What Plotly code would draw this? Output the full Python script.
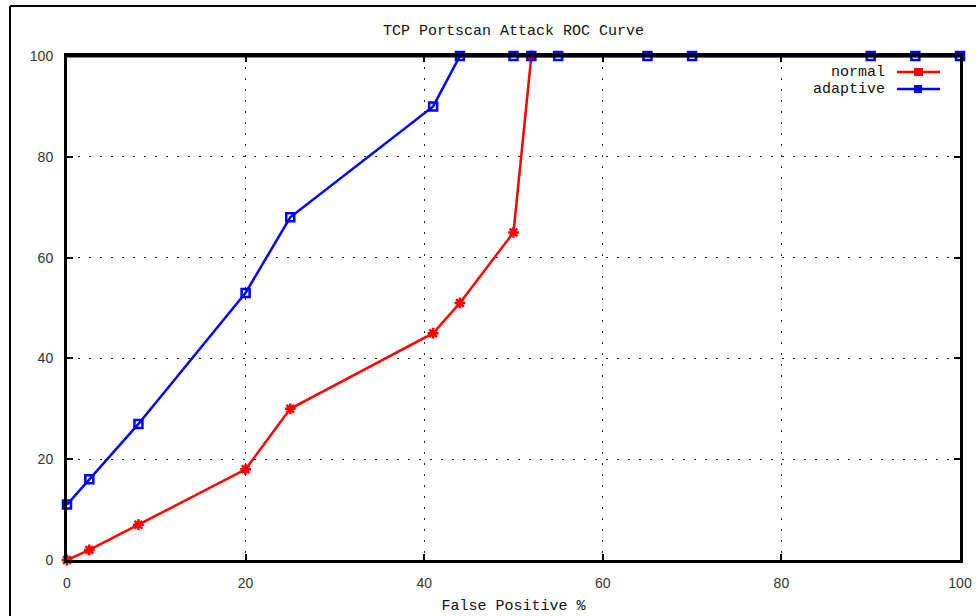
import plotly.graph_objects as go

# Data
normal_fp = [0, 2.5, 8, 20, 25, 41, 44, 50, 52]
normal_tp = [0, 2, 7, 18, 30, 45, 51, 65, 100]

adaptive_fp = [0, 2.5, 8, 20, 25, 41, 44, 50, 52, 55, 65, 70, 90, 95, 100]
adaptive_tp = [11, 16, 27, 53, 68, 90, 100, 100, 100, 100, 100, 100, 100, 100, 100]

x_ticks = [0, 20, 40, 60, 80, 100]
y_ticks = [0, 20, 40, 60, 80, 100]

W, H = 976, 616
ML, MR, MT, MB = 67, 16, 56, 56
PW, PH = W - ML - MR, H - MT - MB

def px(x):
    return (x - ML) / PW

def py(y):
    return (H - MB - y) / PH

mono = "Liberation Mono"
RED = "#ff0000"
BLUE = "#0000ff"

fig = go.Figure()
fig.add_trace(go.Scatter(
    x=normal_fp, y=normal_tp, mode="lines+markers", name="normal",
    line=dict(color=RED, width=2.5),
    marker=dict(symbol="asterisk-open", size=9, color=RED, line=dict(color=RED, width=2.5)),
    cliponaxis=False, showlegend=False,
))
fig.add_trace(go.Scatter(
    x=adaptive_fp, y=adaptive_tp, mode="lines+markers", name="adaptive",
    line=dict(color=BLUE, width=2.5),
    marker=dict(symbol="square-open", size=8, color=BLUE, line=dict(color=BLUE, width=2.5)),
    cliponaxis=False, showlegend=False,
))

axis_common = dict(
    showline=True, linecolor="black", linewidth=3, mirror="ticks",
    ticks="inside", ticklen=6, tickwidth=2, tickcolor="black",
    showgrid=True, gridcolor="#222", gridwidth=1, griddash="2px,9px",
    zeroline=False, layer="above traces", automargin=False,
    tickfont=dict(family="Liberation Sans", size=14, color="#333"),
    ticklabelstandoff=8,
)

fig.update_xaxes(range=[0, 100], tickvals=x_ticks, **axis_common,
                 title=dict(text="False Positive %", font=dict(family=mono, size=15, color="#111"), standoff=10))
fig.update_yaxes(range=[0, 100], tickvals=y_ticks, **axis_common)

shapes = [
    # outer frame (screenshot border)
    dict(type="line", xref="paper", yref="paper", x0=px(10), x1=px(978), y0=py(6), y1=py(6),
         line=dict(color="black", width=2)),
    dict(type="line", xref="paper", yref="paper", x0=px(10), x1=px(10), y0=py(6), y1=py(620),
         line=dict(color="black", width=2)),
    # top border drawn over the curves, as in the reference
    dict(type="line", xref="paper", yref="paper", x0=0, x1=1, y0=1, y1=1, layer="above",
         line=dict(color="black", width=3)),
    # legend samples
    dict(type="line", xref="paper", yref="paper", x0=px(897), x1=px(940), y0=py(72), y1=py(72),
         line=dict(color=RED, width=2.5)),
    dict(type="rect", xref="paper", yref="paper", x0=px(914), x1=px(923), y0=py(68), y1=py(76),
         fillcolor=RED, line=dict(width=0)),
    dict(type="line", xref="paper", yref="paper", x0=px(897), x1=px(940), y0=py(89), y1=py(89),
         line=dict(color=BLUE, width=2.5)),
    dict(type="rect", xref="paper", yref="paper", x0=px(914), x1=px(922), y0=py(85), y1=py(93),
         fillcolor=BLUE, line=dict(width=0)),
]

annotations = [
    dict(text="normal", xref="paper", yref="paper", x=px(887), y=py(72), xanchor="right", yanchor="middle",
         showarrow=False, font=dict(family=mono, size=15, color="#111")),
    dict(text="adaptive", xref="paper", yref="paper", x=px(887), y=py(89), xanchor="right", yanchor="middle",
         showarrow=False, font=dict(family=mono, size=15, color="#111")),
]

fig.update_layout(
    width=W, height=H,
    margin=dict(l=ML, r=MR, t=MT, b=MB),
    paper_bgcolor="white", plot_bgcolor="white",
    title=dict(text="TCP Portscan Attack ROC Curve", x=(ML + PW / 2) / W, xanchor="center",
               y=1 - 30 / H, yanchor="middle", yref="container",
               font=dict(family=mono, size=15, color="#111")),
    shapes=shapes, annotations=annotations, showlegend=False,
)

fig.write_html("out.html")
